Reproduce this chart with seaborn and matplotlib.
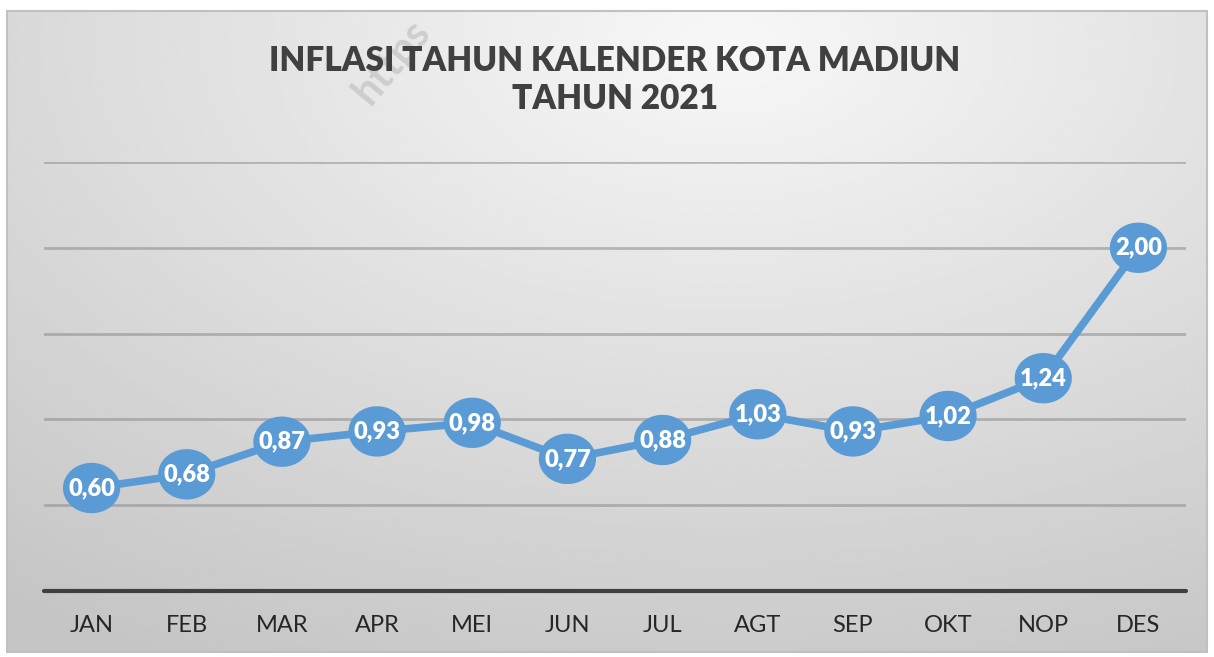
import numpy as np
import pandas as pd
import matplotlib.pyplot as plt
import seaborn as sns
from matplotlib.path import Path
from matplotlib.patches import Rectangle

# Data
bulan = ['JAN', 'FEB', 'MAR', 'APR', 'MEI', 'JUN', 'JUL', 'AGT', 'SEP', 'OKT', 'NOP', 'DES']
inflasi = [0.60, 0.68, 0.87, 0.93, 0.98, 0.77, 0.88, 1.03, 0.93, 1.02, 1.24, 2.00]
judul = 'INFLASI TAHUN KALENDER KOTA MADIUN\nTAHUN 2021'

df = pd.DataFrame({'pos': range(len(bulan)), 'bulan': bulan, 'inflasi': inflasi})

sns.set_theme(style='white')
plt.rcParams['font.family'] = ['Lato', 'DejaVu Sans']

W, H = 1214, 657
fig = plt.figure(figsize=(W / 100, H / 100), dpi=100)
fig.patch.set_facecolor('white')

# Chart area background (radial gray gradient, Excel-like)
bg = fig.add_axes([7 / W, 1 - 652 / H, 1200 / W, 641 / H])
gx, gy = np.meshgrid(np.linspace(0, 1, 400), np.linspace(0, 1, 220))
dist = np.sqrt(((gx - 0.6) / 1.0) ** 2 + ((gy - 0.05) / 1.1) ** 2)
shade = 0.97 - 0.2 * np.clip(dist, 0, 1)
bg.imshow(shade, cmap='gray', vmin=0, vmax=1, aspect='auto', extent=[0, 1, 1, 0])
bg.set_xlim(0, 1)
bg.set_ylim(1, 0)
bg.axis('off')
fig.patches.append(Rectangle((7 / W, 1 - 652 / H), 1200 / W, 641 / H, transform=fig.transFigure,
                             fill=False, edgecolor='#c0c0c0', linewidth=1.5))

# Watermark
fig.text(392 / W, 1 - 62 / H, 'https', rotation=50, fontsize=30, fontweight='bold',
         color='#9a9a9a', alpha=0.35, ha='center', va='center')

# Main axes
ax = fig.add_axes([44 / W, 1 - 591 / H, 1142 / W, 429 / H])
ax.set_facecolor('none')
ax.set_xlim(-0.5, len(bulan) - 0.5)
ax.set_ylim(0, 2.5)

for yv in [0.5, 1.0, 1.5, 2.0, 2.5]:
    ax.axhline(yv, color='#8a8a8a', alpha=0.55, linewidth=2, zorder=1)
ax.axhline(0, color='#3f3f3f', linewidth=3, zorder=2, clip_on=False)

sns.lineplot(data=df, x='pos', y='inflasi', ax=ax, color='#5b9bd5', linewidth=5.5,
             zorder=3, legend=False)

t = np.linspace(0, 2 * np.pi, 60)
ellipse = Path(np.column_stack([np.cos(t), 0.88 * np.sin(t)]))
ax.scatter(df['pos'], df['inflasi'], marker=ellipse, s=1700, color='#5b9bd5',
           edgecolors='none', zorder=4)

for x, y in zip(df['pos'], df['inflasi']):
    ax.text(x, y, f'{y:.2f}'.replace('.', ','), color='white', fontsize=17,
            fontweight='heavy', ha='center', va='center', zorder=5)

ax.set_xticks(df['pos'])
ax.set_xticklabels(bulan, fontsize=17, color='#262626')
ax.tick_params(axis='x', length=0, pad=17)
ax.set_yticks([])
ax.set_xlabel('')
ax.set_ylabel('')
for s in ax.spines.values():
    s.set_visible(False)

fig.text(615 / W, 1 - 80 / H, judul, ha='center', va='center', fontsize=24,
         fontweight='heavy', color='#404040', linespacing=1.2)

fig.savefig('out.png', dpi=100)
